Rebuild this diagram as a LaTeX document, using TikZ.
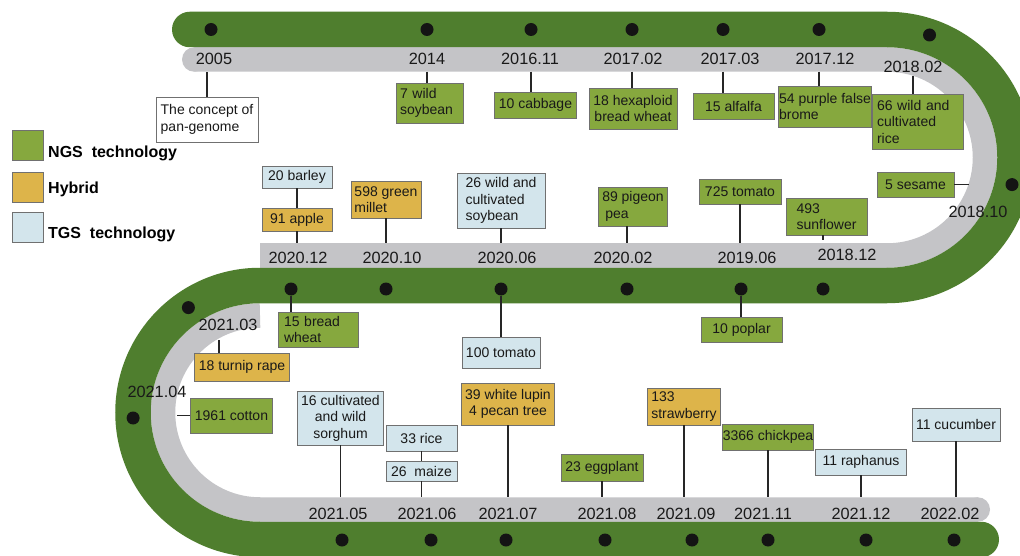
\documentclass[tikz,border=0pt]{standalone}
\usepackage{fontspec}
\setmainfont{Liberation Sans}
\usetikzlibrary{positioning}

\definecolor{bandgreen}{RGB}{79,126,46}
\definecolor{bandgray}{RGB}{196,196,199}
\definecolor{ngsfill}{RGB}{134,168,62}
\definecolor{hybfill}{RGB}{221,180,74}
\definecolor{tgsfill}{RGB}{211,229,236}
\definecolor{boxline}{RGB}{112,112,112}

\begin{document}
\begin{tikzpicture}[x=1pt,y=-1pt,
    dot/.style={circle,fill=black!92,minimum size=13pt,inner sep=0pt},
    year/.style={font=\fontsize{16.3}{18}\selectfont,text=black!90,inner sep=0pt,minimum height=26pt},
    box/.style={draw=boxline,line width=0.9pt,font=\fontsize{14}{16.5}\selectfont,
                inner xsep=4pt,inner ysep=1pt,align=center,text=black!90},
    ngs/.style={box,fill=ngsfill},
    hyb/.style={box,fill=hybfill},
    tgs/.style={box,fill=tgsfill},
    link/.style={draw=black!85,line width=1.2pt},
    legbox/.style={draw=boxline,line width=0.9pt,minimum width=31pt,minimum height=30pt,inner sep=0pt},
    legtext/.style={font=\bfseries\fontsize{16}{18}\selectfont,inner sep=0pt}]
    \path[use as bounding box,fill=white] (0,0) rectangle (1020,556);

    % the snake
    \draw[bandgray,line width=24.5pt] (194.25,59.5) -- (887,59.5)
          arc[start angle=-90,end angle=90,radius=98] -- (260,255.5);
    \draw[bandgray,line width=24.5pt] (260,315.5)
          arc[start angle=-90,end angle=-270,radius=97] -- (977.75,509.5);
    \fill[bandgray] (194.25,59.5) circle[radius=12.25];
    \fill[bandgray] (977.75,509.5) circle[radius=12.25];
    \draw[bandgreen,line width=35.5pt,line cap=round] (189.75,29.5) -- (887,29.5)
          arc[start angle=-90,end angle=90,radius=128] -- (260,285.5)
          arc[start angle=-90,end angle=-270,radius=127] -- (981.25,539.5);

    % legend
    \node[legbox,fill=ngsfill] (kngs) at (27.5,145) {};
    \node[legbox,fill=hybfill] (khyb) at (27.5,187) {};
    \node[legbox,fill=tgsfill] (ktgs) at (27.5,227) {};
    \node[legtext,anchor=base west] (tngs) at (48,158) {NGS\ \ technology};
    \node[legtext,anchor=base west] (thyb) at (48,194) {Hybrid};
    \node[legtext,anchor=base west] (ttgs) at (48,238) {TGS\ \ technology};

    % dates
    \foreach \n/\x/\t in {05/214/2005,14/427/2014,1611/530/2016.11,1702/633/2017.02,
                          1703/730/2017.03,1712/825/2017.12}
        \node[year] (y\n) at (\x,58.5) {\t};
    \node[year,minimum height=18pt] (y1802) at (913,67) {2018.02};
    \node[year] (y1810) at (978,212) {2018.10};
    \foreach \n/\x/\t in {2012/298/2020.12,2010/392/2020.10,2006/507/2020.06,
                          2002/623/2020.02,1906/747/2019.06}
        \node[year,minimum height=30pt] (y\n) at (\x,258) {\t};
    \node[year,minimum height=30pt] (y1812) at (847,255) {2018.12};
    \node[year,minimum height=30pt] (y2103) at (228,325) {2021.03};
    \node[year] (y2104) at (157,392) {2021.04};
    \foreach \n/\x/\t in {2105/338/2021.05,2106/427/2021.06,2107/508/2021.07,2108/607/2021.08,
                          2109/686/2021.09,2111/763/2021.11,2112/861/2021.12,2202/950/2022.02}
        \node[year,minimum height=34pt] (y\n) at (\x,514) {\t};

    % top row
    \node[box,fill=white,align=left,minimum width=102pt,minimum height=45pt] (b05) at (207,119.5)
         {The concept of\\pan-genome};
    \node[ngs,text width=59pt,align=left,minimum height=40pt] (b14) at (429.5,103) {7 wild\\soybean};
    \node[ngs,minimum width=81pt,minimum height=26pt] (b1611) at (535.5,105) {10 cabbage};
    \node[ngs,minimum width=88pt,minimum height=41pt] (b1702) at (633,108.5) {18 hexaploid\\bread wheat};
    \node[ngs,minimum width=81pt,minimum height=26pt] (b1703) at (733.5,106) {15 alfalfa};
    \node[ngs,inner xsep=0.5pt,align=left,minimum width=92pt,minimum height=41pt] (b1712) at (825,106.5)
         {54 purple false\\brome};
    \node[ngs,inner xsep=5pt,text width=81pt,align=left,minimum height=55pt] (b1802) at (917.5,121.5)
         {66 wild and\\cultivated\\rice};
    \node[ngs,minimum width=77pt,minimum height=25pt] (b1810) at (915.5,184.5) {5 sesame};

    % middle row
    \node[tgs,minimum width=70pt,minimum height=22pt] (b2012a) at (297,177) {20 barley};
    \node[hyb,minimum width=70pt,minimum height=23pt] (b2012h) at (297,219.5) {91 apple};
    \node[hyb,inner xsep=3pt,align=left,minimum width=70pt,minimum height=37pt] (b2010) at (386,199.5)
         {598 green\\millet};
    \node[tgs,align=left,minimum width=88pt,minimum height=55pt] (b2006) at (501,200.5)
         {26 wild and\\cultivated\\soybean};
    \node[ngs,align=left,minimum width=68pt,minimum height=39pt] (b2002) at (633,206.5) {89 pigeon\\\hspace{3pt}pea};
    \node[ngs,minimum width=82pt,minimum height=25pt] (b1906) at (740,191.5) {725 tomato};
    \node[ngs,align=left,minimum width=81pt,minimum height=37pt] (b1812) at (826.5,216.5) {493\\sunflower};
    \node[ngs,inner xsep=6pt,text width=68pt,align=left,minimum height=35pt] (b2012n) at (318,329.5)
         {15 bread\\wheat};
    \node[tgs,minimum width=76pt,minimum height=31pt] (b2006t) at (501,352.5) {100 tomato};
    \node[ngs,minimum width=81pt,minimum height=25pt] (b1906p) at (741.5,329.5) {10 poplar};

    % left bend
    \node[hyb,minimum width=94pt,minimum height=28pt] (b2103) at (242,367) {18 turnip rape};
    \node[ngs,minimum width=81pt,minimum height=35pt] (b2104) at (231.5,415.5) {1961 cotton};

    % bottom row
    \node[tgs,minimum width=85pt,minimum height=54pt] (b2105) at (340.5,418)
         {16 cultivated\\and wild\\sorghum};
    \node[tgs,minimum width=71pt,minimum height=26pt] (b2106r) at (421.5,438) {33 rice};
    \node[tgs,minimum width=71pt,minimum height=20pt] (b2106m) at (421.5,471) {26\ \ maize};
    \node[hyb,minimum width=92pt,minimum height=42pt] (b2107) at (508,404) {39 white lupin\\4 pecan tree};
    \node[ngs,minimum width=82pt,minimum height=27pt] (b2108) at (602,467.5) {23 eggplant};
    \node[hyb,align=left,minimum width=70pt,minimum height=37pt] (b2109) at (684,406.5) {133\\strawberry};
    \node[ngs,inner xsep=0.5pt,minimum width=90pt,minimum height=26pt] (b2111) at (768,437) {3366 chickpea};
    \node[tgs,minimum width=91pt,minimum height=26pt] (b2112) at (861,462) {11 raphanus};
    \node[tgs,minimum width=84pt,minimum height=33pt] (b2202) at (956,424.5) {11 cucumber};

    % dots
    \foreach \n/\x in {05/211,14/427,1611/531,1702/632,1703/723,1712/819}
        \node[dot] (d\n) at (\x,29.5) {};
    \node[dot] (d1802) at (929.5,35) {};
    \node[dot] (d1810) at (1012,184.6) {};
    \foreach \n/\x in {2012/291,2010/386,2006/501,2002/627,1906/741,1812/823}
        \node[dot] (d\n) at (\x,289) {};
    \node[dot] (d2103) at (188.4,307.6) {};
    \node[dot] (d2104) at (133.1,418) {};
    \foreach \n/\x in {2105/342,2106/431,2107/506,2108/605,2109/692,2111/768,2112/866,2202/954}
        \node[dot] (d\n) at (\x,540) {};

    % connectors
    \draw[link] (b05.north) -- (b05.north |- y05.south);
    \foreach \n in {14,1611,1702,1703,1712}
        \draw[link] (y\n.south -| d\n) -- (b\n.north -| d\n);
    \draw[link] (y1802.south) -- (y1802.south |- b1802.north);
    \draw[link] (b1810.east) -- ++(15,0);
    \draw[link] (b2012a.south) -- (b2012h.north);
    \foreach \n in {2012h,2010,2006,1906}
        \draw[link] (b\n.south) -- (b\n.south |- y2012.north);
    \draw[link] (b2002.south -| d2002) -- (y2002.north -| d2002);
    \draw[link] (b1812.south -| d1812) -- (y1812.north -| d1812);
    \draw[link] (d2012) -- (d2012 |- b2012n.north);
    \draw[link] (d2006) -- (d2006 |- b2006t.north);
    \draw[link] (d1906) -- (d1906 |- b1906p.north);
    \draw[link] ([xshift=-9pt]y2103.south) -- ([xshift=-9pt]y2103.south |- b2103.north);
    \draw[link] (b2104.west) -- ++(-13,0);
    \draw[link] (b2106r.south) -- (b2106m.north);
    \foreach \n in {2105,2106m,2107,2108,2109,2111,2112,2202}
        \draw[link] (b\n.south) -- (b\n.south |- y2105.north);
\end{tikzpicture}
\end{document}
